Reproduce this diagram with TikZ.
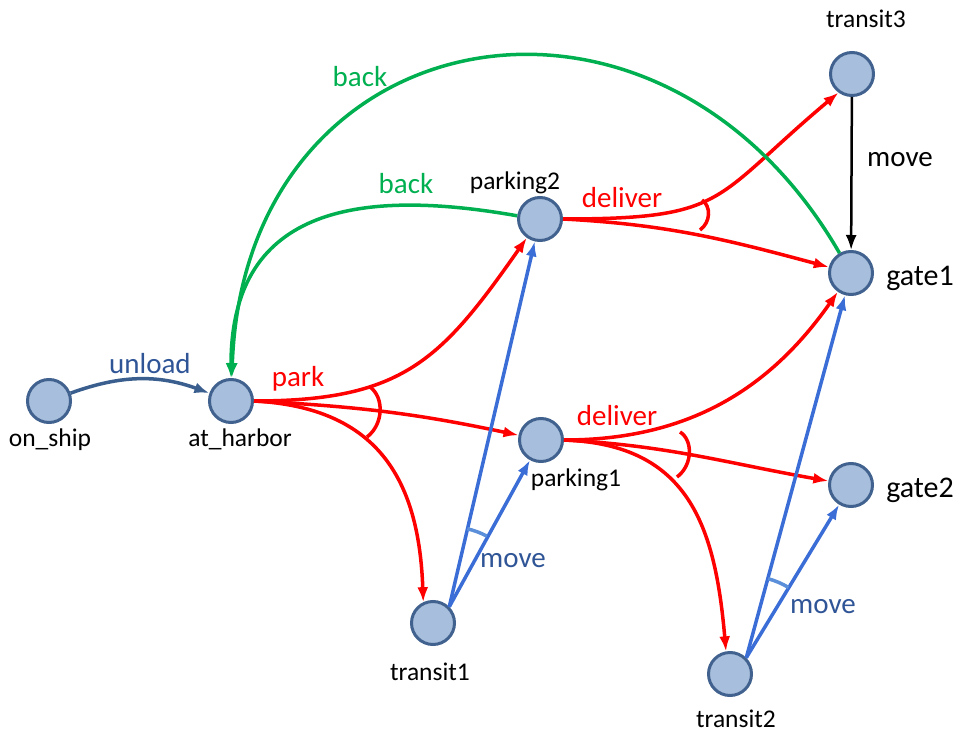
\documentclass[tikz,border=0pt]{standalone}
\usepackage{fontspec}
\setmainfont{Carlito}
\usetikzlibrary{arrows.meta}
\definecolor{nodefill}{HTML}{A7BEDC}
\definecolor{nodeline}{HTML}{41628E}
\definecolor{movecol}{HTML}{3B6DD6}
\definecolor{movetext}{HTML}{2F5597}
\definecolor{unloadcol}{HTML}{3A5F8F}
\definecolor{backcol}{HTML}{00B050}
\definecolor{joincol}{HTML}{5B8FD9}
\begin{document}
\begin{tikzpicture}[x=1pt, y=1pt,
  place/.style={circle, draw=nodeline, fill=nodefill, line width=3pt, minimum size=43pt, inner sep=0pt},
  placelbl/.style={font=\fontsize{25.5}{30}\selectfont, anchor=base, inner sep=0pt},
  actlbl/.style={font=\fontsize{29}{34}\selectfont, anchor=base, inner sep=0pt},
  conn/.style={line width=3.5pt, -{Latex[length=15pt,width=11pt]}},
  andarc/.style={line width=3.5pt}
  ]
\useasboundingbox (0,0) rectangle (958,-735);
% places
\node[place] (on_ship) at (49,-401) {};
\node[place] (at_harbor) at (231,-401) {};
\node[place] (parking2) at (540,-219) {};
\node[place] (parking1) at (541,-440) {};
\node[place] (transit1) at (433,-623) {};
\node[place] (transit2) at (730,-674) {};
\node[place] (transit3) at (852,-74) {};
\node[place] (gate1) at (851,-273) {};
\node[place] (gate2) at (851,-485) {};
\node[placelbl] (on_ship_lbl) at (50,-446) {on\_ship};
\node[placelbl] (at_harbor_lbl) at (240,-446) {at\_harbor};
\node[placelbl] (parking2_lbl) at (515,-190) {parking2};
\node[placelbl] (parking1_lbl) at (576,-486) {parking1};
\node[placelbl] (transit1_lbl) at (430,-680) {transit1};
\node[placelbl] (transit2_lbl) at (736,-727) {transit2};
\node[placelbl] (transit3_lbl) at (866,-28) {transit3};
\node[actlbl, font=\fontsize{30}{36}\selectfont] (gate1_lbl) at (920,-285) {gate1};
\node[actlbl, font=\fontsize{30}{36}\selectfont] (gate2_lbl) at (920,-497) {gate2};

% unload
\draw[conn, unloadcol] (on_ship) to[bend left=20] (at_harbor);
\node[actlbl, movetext] (unload_lbl) at (150,-373) {unload};

% park
\draw[conn, red] (at_harbor.east) to[out=0, in=235, looseness=1.2] (parking2);
\draw[conn, red] (at_harbor.east) to[out=-3, in=168] (parking1);
\draw[conn, red] (at_harbor.east) to[out=-3, in=92, looseness=1.2] (transit1.115);
\draw[andarc, red] (370,-387) .. controls (384,-397) and (384,-424) .. (367,-437);
\node[actlbl, red] (park_lbl) at (298,-386) {park};

% deliver
\draw[conn, red] (parking2.east) to[out=0, in=220, looseness=1.4] (transit3.234);
\draw[conn, red] (parking2.east) to[out=-3, in=165] (gate1);
\draw[andarc, red] (702,-200) .. controls (711,-206) and (711,-222) .. (700,-230);
\node[actlbl, red] (deliver_lbl1) at (622,-208) {deliver};
\draw[conn, red] (parking1.east) to[out=0, in=235] (gate1);
\draw[conn, red] (parking1.east) to[out=-3, in=170] (gate2);
\draw[conn, red] (parking1.east) to[out=-2, in=95, looseness=1.2] (transit2.100);
\draw[andarc, red] (680,-432) .. controls (693,-440) and (693,-465) .. (677,-477);
\node[actlbl, red] (deliver_lbl2) at (617,-425) {deliver};

% move
\draw[conn, movecol] (transit1.45) -- (parking2);
\draw[conn, movecol] (transit1.45) -- (parking1);
\draw[andarc, joincol] (transit1.45) ++(77:80pt) arc[start angle=77, end angle=62, radius=80pt];
\node[actlbl, movetext] (move_lbl2) at (513,-567) {move};
\draw[conn, movecol] (transit2.45) -- (gate1);
\draw[conn, movecol] (transit2.45) -- (gate2);
\draw[andarc, joincol] (transit2.45) ++(74.5:82pt) arc[start angle=74.5, end angle=59, radius=82pt];
\node[actlbl, movetext] (move_lbl3) at (823,-613) {move};
\draw[conn, black, line width=2.5pt] (transit3) -- (gate1);
\node[actlbl] (move_lbl1) at (900,-167) {move};

% back
\draw[conn, backcol] (gate1.120) to[out=120, in=88, looseness=1.5] (at_harbor);
\draw[conn, backcol] (parking2.172) to[out=170, in=90, looseness=1.3] (at_harbor);
\node[actlbl, backcol] (back_lbl1) at (360,-87) {back};
\node[actlbl, backcol] (back_lbl2) at (406,-194) {back};
\end{tikzpicture}
\end{document}
